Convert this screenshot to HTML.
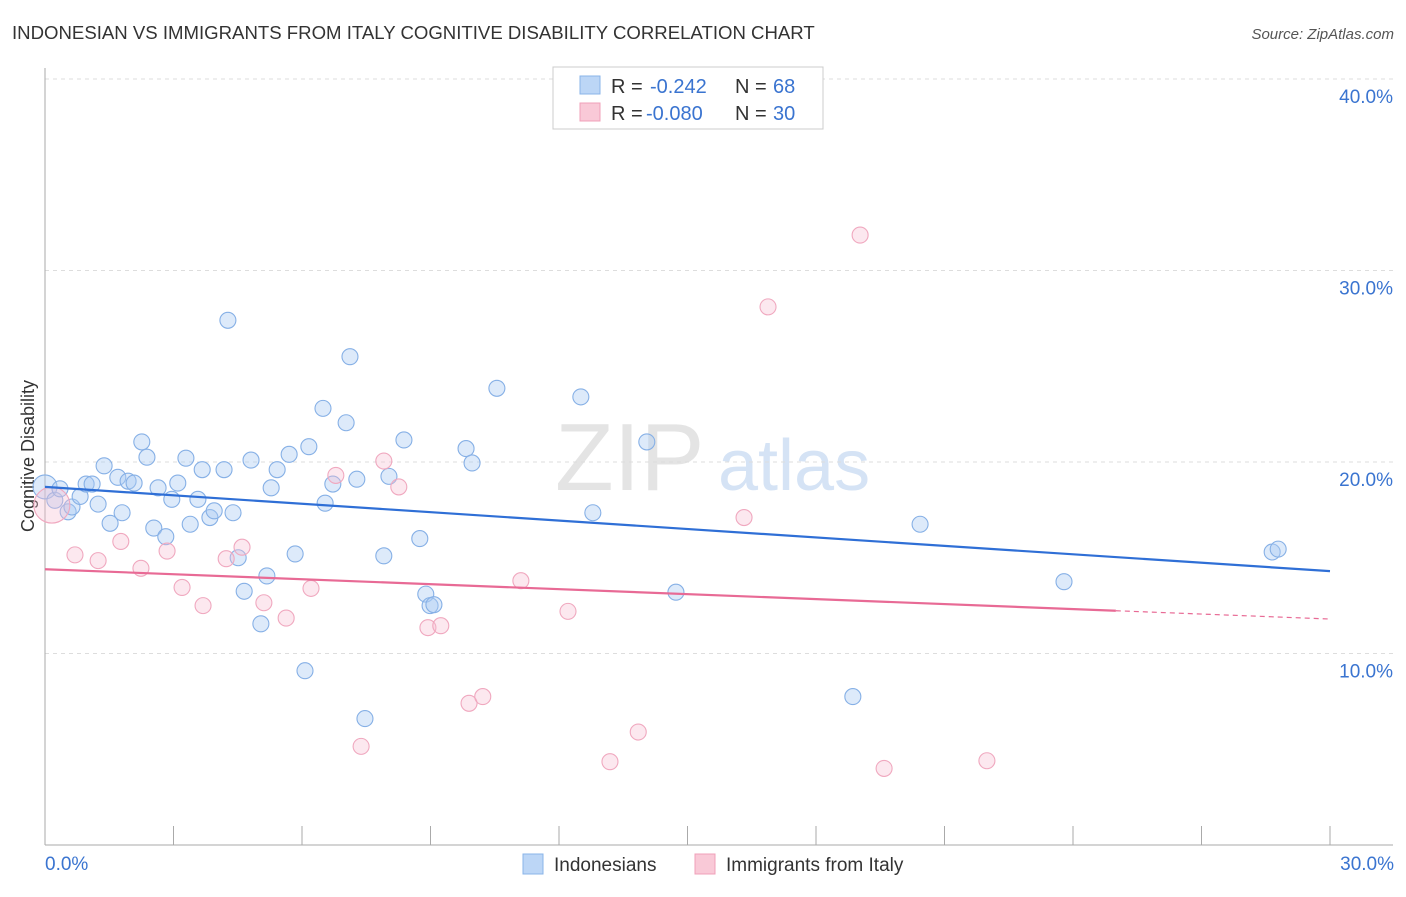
<!DOCTYPE html>
<html><head><meta charset="utf-8"><style>
body{margin:0;background:#fff;font-family:"Liberation Sans",sans-serif}
svg text{font-family:"Liberation Sans",sans-serif}
</style></head><body>
<svg id="c" width="1406" height="892" xmlns="http://www.w3.org/2000/svg">
<text x="12" y="39" font-size="18.6" fill="#333">INDONESIAN VS IMMIGRANTS FROM ITALY COGNITIVE DISABILITY CORRELATION CHART</text>
<text x="1394" y="39" font-size="15" fill="#555" text-anchor="end" font-style="italic">Source: ZipAtlas.com</text>
<text x="555" y="490" font-size="96" fill="#e4e4e4" font-family="Liberation Serif">ZIP</text>
<text x="718" y="490" font-size="72" fill="#d5e3f5">atlas</text>
<text transform="translate(34,456) rotate(-90)" font-size="18" fill="#333" text-anchor="middle">Cognitive Disability</text>
<g id="grid"></g><g id="pts"></g><g id="lines"></g>
<g>
<rect x="553" y="67" width="270" height="62" fill="#fff" stroke="#ccc"/>
<rect x="580" y="76" width="20" height="18" fill="#bcd6f6" stroke="#8ab4e8"/>
<rect x="580" y="103" width="20" height="18" fill="#f9c9d7" stroke="#f0a0b8"/>
<text x="611" y="93" font-size="20" fill="#333">R =</text>
<text x="650" y="93" font-size="20" fill="#3a74d0">-0.242</text>
<text x="735" y="93" font-size="20" fill="#333">N =</text>
<text x="773" y="93" font-size="20" fill="#3a74d0">68</text>
<text x="611" y="120" font-size="20" fill="#333">R =</text>
<text x="646" y="120" font-size="20" fill="#3a74d0">-0.080</text>
<text x="735" y="120" font-size="20" fill="#333">N =</text>
<text x="773" y="120" font-size="20" fill="#3a74d0">30</text>
</g>
<g>
<rect x="523" y="854" width="20" height="20" fill="#bcd6f6" stroke="#8ab4e8"/>
<text x="554" y="871" font-size="19" fill="#333">Indonesians</text>
<rect x="695" y="854" width="20" height="20" fill="#f9c9d7" stroke="#f0a0b8"/>
<text x="726" y="871" font-size="19" fill="#333">Immigrants from Italy</text>
</g>
</svg>
<script>
const blueX=[0.0,0.23,0.35,0.54,0.63,0.82,0.96,1.10,1.24,1.38,1.52,1.70,1.80,1.94,2.08,2.26,2.38,2.54,2.64,2.82,2.96,3.10,3.29,3.39,3.57,3.67,3.85,3.95,4.18,4.27,4.39,4.51,4.65,4.81,5.04,5.18,5.28,5.42,5.70,5.84,6.07,6.16,6.49,6.54,6.72,7.03,7.12,7.28,7.47,7.91,8.03,8.38,8.75,8.89,8.99,9.08,9.83,9.97,10.55,12.51,12.79,14.05,14.73,18.86,20.43,23.79,28.65,28.79];
const blueY=[18.7,18.0,18.6,17.4,17.65,18.2,18.85,18.85,17.8,19.8,16.8,19.2,17.35,19.0,18.9,21.05,20.25,16.55,18.65,16.1,18.05,18.9,20.2,16.75,18.05,19.6,17.1,17.45,19.6,27.4,17.35,15.0,13.25,20.1,11.55,14.05,18.65,19.6,20.4,15.2,9.1,20.8,22.8,17.85,18.85,22.05,25.5,19.1,6.6,15.1,19.25,21.15,16.0,13.1,12.5,12.55,20.7,19.95,23.85,23.4,17.35,21.05,13.2,7.75,16.75,13.75,15.3,15.45];
const pinkX=[0.16,0.70,1.24,1.77,2.24,2.85,3.20,3.69,4.23,4.60,5.11,5.63,6.21,6.79,7.38,7.91,8.26,8.94,9.24,9.90,10.22,11.11,12.21,13.19,13.85,16.32,16.88,19.03,19.59,21.99];
const pinkY=[17.75,15.15,14.85,15.85,14.45,15.35,13.45,12.5,14.95,15.55,12.65,11.85,13.4,19.3,5.15,20.05,18.7,11.35,11.45,7.4,7.75,13.8,12.2,4.35,5.9,17.1,28.1,31.85,4.0,4.4];
const blueTrend=[18.7,14.3];
const pinkTrend=[14.4,11.8];
const pinkSolidEnd=25;
const yTicks=[10,20,30,40];
const xTicks=[0,30];
const NS="http://www.w3.org/2000/svg";
const sx=v=>45+v*1285/30, sy=v=>845-v*19.15;
function mk(t,a,p){const e=document.createElementNS(NS,t);for(const k in a)e.setAttribute(k,a[k]);p.appendChild(e);return e;}
const grid=document.getElementById('grid');
yTicks.forEach(t=>{
 const l=mk('line',{x1:45,x2:1393,y1:sy(t),y2:sy(t),stroke:'#ddd','stroke-dasharray':'4,4'},grid);
 
 
 const tx=mk('text',{x:1393,y:sy(t)+24,'font-size':19,fill:'#3a74d0','text-anchor':'end'},grid);
 tx.textContent=t.toFixed(1)+'%';
 
 
});
const ax=mk('line',{x1:45,x2:45,y1:68,y2:845,stroke:'#aaa'},grid);


const bx=mk('line',{x1:45,x2:1393,y1:845,y2:845,stroke:'#aaa'},grid);


for(let i=0;i<=10;i++){const t=mk('line',{x1:sx(i*3),x2:sx(i*3),y1:826,y2:845,stroke:'#aaa'},grid);
 
 }
xTicks.forEach((t,i)=>{const tx=mk('text',{x:i?1394:45,y:870,'font-size':19,fill:'#3a74d0','text-anchor':i?'end':'start'},grid);
 tx.textContent=t.toFixed(1)+'%';
 
 });
const pts=document.getElementById('pts');
blueX.forEach((x,i)=>{const c=mk('circle',{cx:sx(x),cy:sy(blueY[i]),r:i==0?12:8,fill:'rgba(170,202,242,0.4)',stroke:'#86b0e6','stroke-width':1.1},pts);
 
 });
pinkX.forEach((x,i)=>{const c=mk('circle',{cx:sx(x),cy:sy(pinkY[i]),r:i==0?18:8,fill:'rgba(246,190,208,0.35)',stroke:'#f0a8bf','stroke-width':1.1},pts);
 
 });
const ln=document.getElementById('lines');
const bl=mk('line',{x1:sx(0),y1:sy(blueTrend[0]),x2:sx(30),y2:sy(blueTrend[1]),stroke:'#2f6fd6','stroke-width':2.2},ln);


const pAt=v=>pinkTrend[0]+(pinkTrend[1]-pinkTrend[0])*v/30;
const pl=mk('line',{x1:sx(0),y1:sy(pAt(0)),x2:sx(pinkSolidEnd),y2:sy(pAt(pinkSolidEnd)),stroke:'#e86a95','stroke-width':2.2},ln);


const pd=mk('line',{x1:sx(pinkSolidEnd),y1:sy(pAt(pinkSolidEnd)),x2:sx(30),y2:sy(pAt(30)),stroke:'#e86a95','stroke-width':1.2,'stroke-dasharray':'5,4'},ln);


</script>
</body></html>
